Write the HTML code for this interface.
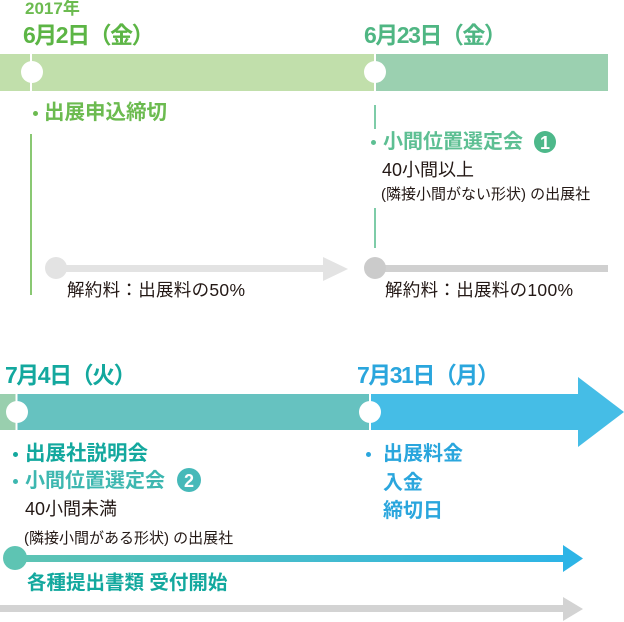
<!DOCTYPE html>
<html><head><meta charset="utf-8"><style>
html,body{margin:0;padding:0;background:#fff;}
body{width:624px;height:622px;position:relative;overflow:hidden;font-family:"Liberation Sans","Noto Sans CJK JP",sans-serif;}
.t{position:absolute;white-space:nowrap;line-height:1;}
.b{font-weight:bold;}
.d{position:absolute;width:5px;height:5px;border-radius:50%;}
.h{font-size:23px;letter-spacing:-1.5px;font-weight:bold;}
</style></head><body>
<svg width="624" height="622" style="position:absolute;left:0;top:0">
<rect x="0" y="54" width="375" height="37" fill="#c1dfab"/>
<rect x="375" y="54" width="233" height="37" fill="#9bd0b0"/>
<line x1="31" y1="54" x2="31" y2="91" stroke="#fff" stroke-width="2"/>
<line x1="375" y1="54" x2="375" y2="91" stroke="#fff" stroke-width="2"/>
<circle cx="32" cy="72" r="11" fill="#fff"/>
<circle cx="375" cy="72" r="11" fill="#fff"/>
<line x1="31" y1="134" x2="31" y2="295" stroke="#6cbb50" stroke-width="1.6"/>
<line x1="375" y1="105" x2="375" y2="129" stroke="#5dbf93" stroke-width="1.6"/>
<line x1="375" y1="208" x2="375" y2="248" stroke="#5dbf93" stroke-width="1.6"/>
<rect x="56" y="265" width="268" height="7" fill="#e3e3e3"/>
<polygon points="323,257 348,269 323,281" fill="#e3e3e3"/>
<circle cx="56" cy="268" r="11" fill="#e3e3e3"/>
<rect x="375" y="265" width="233" height="7" fill="#d0d0d0"/>
<circle cx="375" cy="268" r="11" fill="#cbcbcb"/>
<circle cx="545" cy="142" r="11" fill="#4db88a"/>
<text x="545" y="149" font-family="Liberation Sans" font-weight="bold" font-size="18" fill="#fff" text-anchor="middle">1</text>
<rect x="0" y="394" width="16" height="36" fill="#99cfae"/>
<rect x="16" y="394" width="355" height="36" fill="#66c2c0"/>
<rect x="371" y="394" width="208" height="36" fill="#45bde6"/>
<polygon points="578,377 624,412 578,447" fill="#45bde6"/>
<line x1="16.5" y1="394" x2="16.5" y2="430" stroke="#fff" stroke-width="2"/>
<line x1="370" y1="394" x2="370" y2="430" stroke="#fff" stroke-width="2"/>
<circle cx="17" cy="412" r="11" fill="#fff"/>
<circle cx="370" cy="412" r="11" fill="#fff"/>
<circle cx="189" cy="480" r="12" fill="#46b9b9"/>
<text x="189" y="487" font-family="Liberation Sans" font-weight="bold" font-size="18" fill="#fff" text-anchor="middle">2</text>
<defs><linearGradient id="g" x1="0" x2="1"><stop offset="0" stop-color="#5ec4b3"/><stop offset="1" stop-color="#2db4e6"/></linearGradient></defs>
<rect x="15" y="555" width="550" height="7" fill="url(#g)"/>
<polygon points="563,545 583,558.5 563,572" fill="#2db4e6"/>
<circle cx="15" cy="558" r="12" fill="#5ec4b3"/>
<rect x="0" y="605" width="565" height="7" fill="#d3d3d3"/>
<polygon points="563,597 583,609 563,621" fill="#d3d3d3"/>
</svg>

<div class="t b" style="left:25px;top:0px;font-size:17px;color:#6cbb50">2017年</div>
<div class="t h" style="left:23px;top:24px;color:#5cb545">6月2日（金）</div>
<div class="t h" style="left:364px;top:24px;color:#4fb683">6月23日（金）</div>

<div class="d" style="left:33px;top:111px;background:#6cbb50"></div>
<div class="t b" style="left:44px;top:103px;font-size:20.5px;color:#6cbb50">出展申込締切</div>
<div class="d" style="left:371px;top:140px;background:#5dbf93"></div>
<div class="t b" style="left:383px;top:132px;font-size:20px;color:#5dbf93">小間位置選定会</div>
<div class="t" style="left:382px;top:161px;font-size:18px;color:#231815">40小間以上</div>
<div class="t" style="left:381px;top:187px;font-size:15px;color:#231815">(隣接小間がない形状) の出展社</div>
<div class="t" style="left:67px;top:282px;font-size:17.5px;color:#231815;letter-spacing:0.3px">解約料：出展料の50%</div>
<div class="t" style="left:385px;top:282px;font-size:17.5px;color:#231815;letter-spacing:0.3px">解約料：出展料の100%</div>

<div class="t h" style="left:5px;top:364px;color:#13a89e">7月4日（火）</div>
<div class="t h" style="left:357px;top:364px;color:#2aa6dd">7月31日（月）</div>

<div class="d" style="left:13px;top:452px;background:#13a89e"></div>
<div class="t b" style="left:25px;top:444px;font-size:20.5px;color:#13a89e">出展社説明会</div>
<div class="d" style="left:13px;top:479px;background:#3db7b0"></div>
<div class="t b" style="left:25px;top:471px;font-size:20px;color:#3db7b0">小間位置選定会</div>
<div class="t" style="left:25px;top:500px;font-size:18px;color:#231815">40小間未満</div>
<div class="t" style="left:24px;top:531px;font-size:15px;color:#231815">(隣接小間がある形状) の出展社</div>
<div class="t b" style="left:27px;top:574px;font-size:19.5px;color:#13a89e">各種提出書類 受付開始</div>

<div class="d" style="left:366px;top:452px;background:#2aa6dd"></div>
<div class="t b" style="left:383px;top:444px;font-size:20px;color:#2aa6dd">出展料金</div>
<div class="t b" style="left:383px;top:473px;font-size:20px;color:#2aa6dd">入金</div>
<div class="t b" style="left:383px;top:501px;font-size:20px;color:#2aa6dd">締切日</div>
</body></html>
